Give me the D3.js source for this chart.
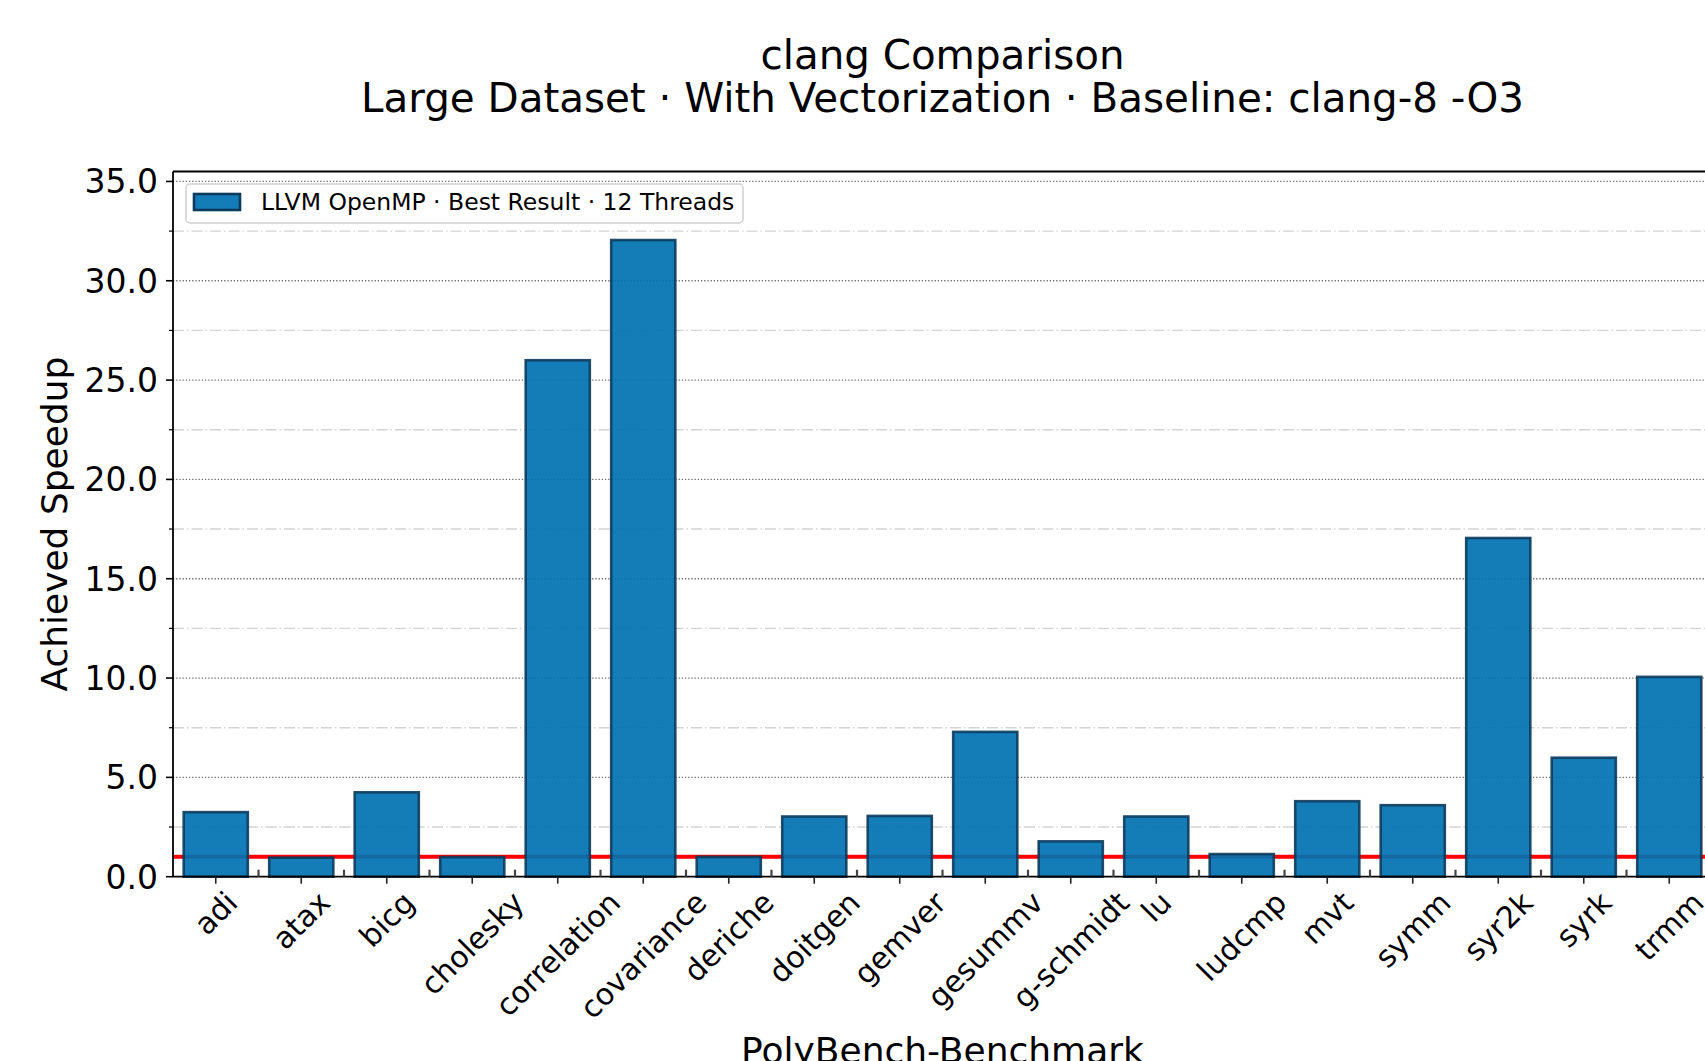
<!DOCTYPE html>
<html>
<head>
<meta charset="utf-8">
<script src="https://cdn.jsdelivr.net/npm/d3@7/dist/d3.min.js"></script>
<style>
  body { margin: 0; background: #fff; }
  svg { display: block; font-family: "DejaVu Sans", sans-serif; }
</style>
</head>
<body>
<svg id="chart" width="1705" height="1061"></svg>
<script>
var benchmarks = ['adi', 'atax', 'bicg', 'cholesky', 'correlation', 'covariance', 'deriche',
                  'doitgen', 'gemver', 'gesummv', 'g-schmidt', 'lu', 'ludcmp', 'mvt', 'symm',
                  'syr2k', 'syrk', 'trmm'];
var speedups = [3.25, 0.96, 4.25, 0.99, 26.0, 32.05, 1.0, 3.03, 3.06, 7.29, 1.78, 3.03, 1.14,
                3.80, 3.60, 17.05, 5.99, 10.06];
var majorTicks = [0, 5, 10, 15, 20, 25, 30, 35];
var minorTicks = [2.5, 7.5, 12.5, 17.5, 22.5, 27.5, 32.5];
var baseline = 1.0;
var seriesName = 'LLVM OpenMP \u00b7 Best Result \u00b7 12 Threads';
var titleLines = ['clang Comparison', 'Large Dataset \u00b7 With Vectorization \u00b7 Baseline: clang-8 -O3'];

var svg = d3.select('#chart');

// axes box (right side runs a bit past the picture, like the original)
var axLeft = 173, axRight = 1712, axTop = 171.5, axBottom = 876.7;

var x = d3.scaleLinear().domain([-0.5, benchmarks.length - 0.5]).range([axLeft, axRight]);
var y = d3.scaleLinear().domain([0, 35.5]).range([axBottom, axTop]);
var barWidth = 0.75;

// grid lines
svg.append('g').selectAll('line')
   .data(minorTicks).enter().append('line')
   .attr('x1', axLeft).attr('x2', axRight)
   .attr('y1', function(d) { return y(d); }).attr('y2', function(d) { return y(d); })
   .attr('stroke', '#d3d3d3').attr('stroke-width', 1.4)
   .attr('stroke-dasharray', '11,3,1.5,3');

svg.append('g').selectAll('line')
   .data(majorTicks.filter(function(d) { return d > 0; })).enter().append('line')
   .attr('x1', axLeft).attr('x2', axRight)
   .attr('y1', function(d) { return y(d); }).attr('y2', function(d) { return y(d); })
   .attr('stroke', '#6e6e6e').attr('stroke-width', 1.3)
   .attr('stroke-dasharray', '1.3,1.9');

// baseline at speedup 1
svg.append('line')
   .attr('x1', axLeft).attr('x2', axRight)
   .attr('y1', y(baseline)).attr('y2', y(baseline))
   .attr('stroke', '#ff0000').attr('stroke-width', 4);

// bars
svg.append('g').selectAll('rect')
   .data(speedups).enter().append('rect')
   .attr('x', function(d, i) { return x(i - barWidth / 2); })
   .attr('width', x(barWidth) - x(0))
   .attr('y', function(d) { return y(d); })
   .attr('height', function(d) { return y(0) - y(d); })
   .attr('fill', '#0072b2')
   .attr('fill-opacity', 0.92)
   .attr('stroke', '#0d3b5c')
   .attr('stroke-opacity', 0.9)
   .attr('stroke-width', 2.6);

// spines
var spines = svg.append('g').attr('stroke', '#000').attr('stroke-width', 1.8);
spines.append('line').attr('x1', axLeft).attr('x2', axLeft).attr('y1', axTop).attr('y2', axBottom);
spines.append('line').attr('x1', axLeft).attr('x2', axRight).attr('y1', axTop).attr('y2', axTop);
spines.append('line').attr('x1', axLeft).attr('x2', axRight).attr('y1', axBottom).attr('y2', axBottom);

// y ticks + labels
var yTicks = svg.append('g');
yTicks.selectAll('.major').data(majorTicks).enter().append('line')
   .attr('x1', axLeft - 7).attr('x2', axLeft)
   .attr('y1', function(d) { return y(d); }).attr('y2', function(d) { return y(d); })
   .attr('stroke', '#000').attr('stroke-width', 1.6);
yTicks.selectAll('.minor').data(minorTicks).enter().append('line')
   .attr('x1', axLeft - 4).attr('x2', axLeft)
   .attr('y1', function(d) { return y(d); }).attr('y2', function(d) { return y(d); })
   .attr('stroke', '#000').attr('stroke-width', 1.2);
yTicks.selectAll('text').data(majorTicks).enter().append('text')
   .attr('x', axLeft - 15)
   .attr('y', function(d) { return y(d) + 12; })
   .attr('text-anchor', 'end')
   .attr('font-size', 33)
   .text(function(d) { return d3.format('.1f')(d); });

// x ticks: major below at the bars, minor inside between bars
var xTicks = svg.append('g');
xTicks.selectAll('.major').data(benchmarks).enter().append('line')
   .attr('x1', function(d, i) { return x(i); }).attr('x2', function(d, i) { return x(i); })
   .attr('y1', axBottom).attr('y2', axBottom + 7)
   .attr('stroke', '#222').attr('stroke-width', 1.6);
xTicks.selectAll('.minor').data(benchmarks.slice(1)).enter().append('line')
   .attr('x1', function(d, i) { return x(i + 0.5); }).attr('x2', function(d, i) { return x(i + 0.5); })
   .attr('y1', axBottom).attr('y2', axBottom - 7)
   .attr('stroke', '#444').attr('stroke-width', 2.2);

// rotated x labels, centred on the tick like matplotlib rotation=45
var labelTop = axBottom + 8;
benchmarks.forEach(function(name, i) {
  var g = svg.append('g');
  var t = g.append('text')
           .attr('text-anchor', 'middle')
           .attr('font-size', 30)
           .text(name);
  var bb = t.node().getBBox();
  t.attr('y', -(bb.y + bb.height / 2));
  var h = (bb.width + bb.height) * Math.SQRT1_2;
  g.attr('transform', 'translate(' + x(i) + ',' + (labelTop + h / 2) + ') rotate(-45)');
});

// axis labels
svg.append('text')
   .attr('transform', 'translate(67,' + ((axTop + axBottom) / 2) + ') rotate(-90)')
   .attr('text-anchor', 'middle')
   .attr('font-size', 36)
   .text('Achieved Speedup');

svg.append('text')
   .attr('x', (axLeft + axRight) / 2).attr('y', 1063)
   .attr('text-anchor', 'middle')
   .attr('font-size', 36)
   .text('PolyBench-Benchmark');

// title
svg.append('g').selectAll('text')
   .data(titleLines).enter().append('text')
   .attr('x', (axLeft + axRight) / 2)
   .attr('y', function(d, i) { return 69 + i * 42.5; })
   .attr('text-anchor', 'middle')
   .attr('font-size', 40.4)
   .text(function(d) { return d; });

// legend
var legend = svg.append('g');
legend.append('rect')
   .attr('x', 186).attr('y', 184).attr('width', 557).attr('height', 39)
   .attr('rx', 4)
   .attr('fill', '#fff').attr('fill-opacity', 0.8)
   .attr('stroke', '#d0d0d0').attr('stroke-width', 1.5);
legend.append('rect')
   .attr('x', 194).attr('y', 194).attr('width', 46).attr('height', 16)
   .attr('fill', '#0072b2').attr('fill-opacity', 0.92)
   .attr('stroke', '#0d3b5c').attr('stroke-width', 2.6);
legend.append('text')
   .attr('x', 261).attr('y', 210)
   .attr('font-size', 23.5)
   .text(seriesName);
</script>
</body>
</html>
